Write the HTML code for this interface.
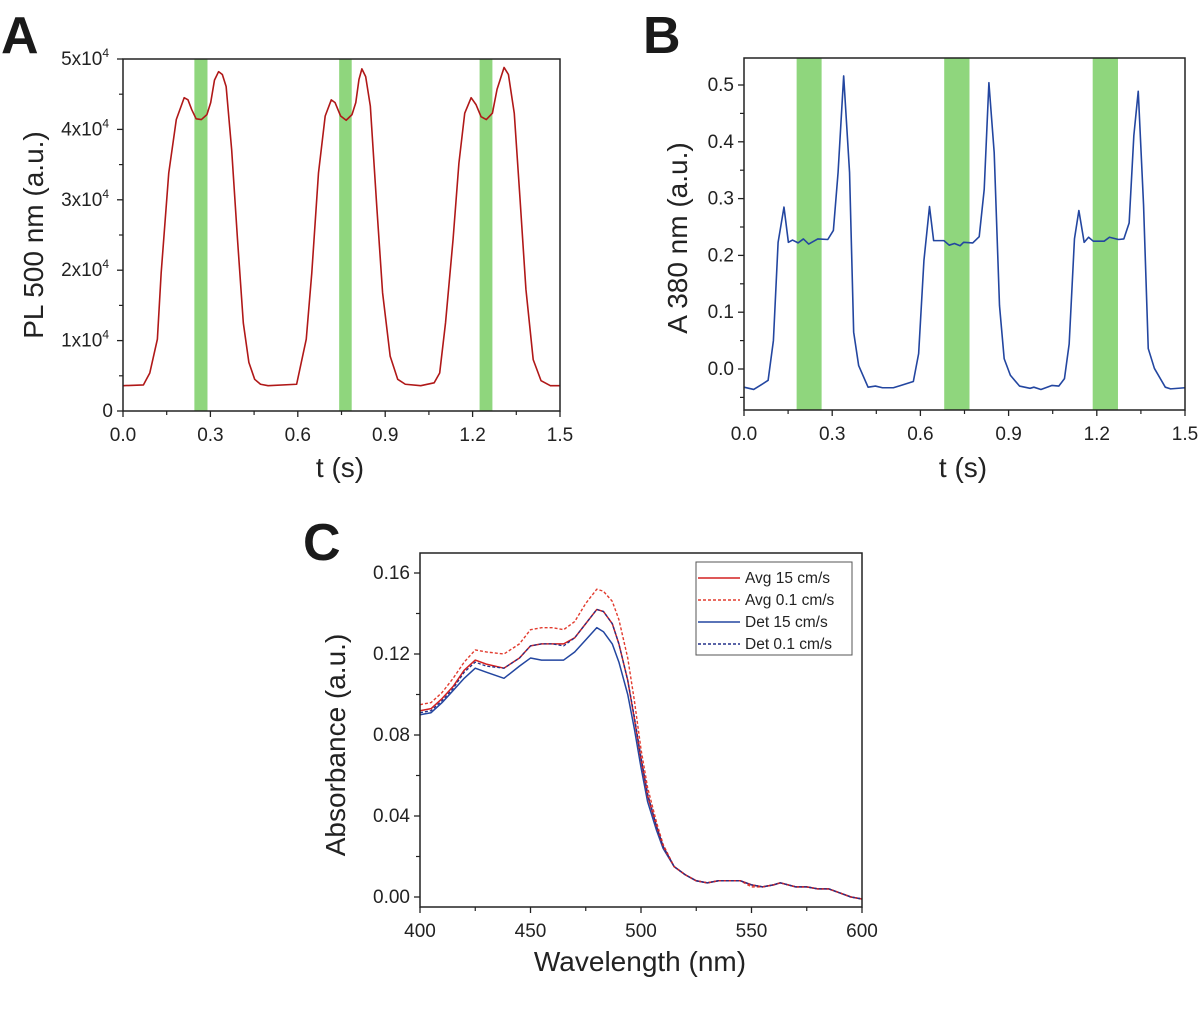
<!DOCTYPE html>
<html><head><meta charset="utf-8">
<style>
html,body{margin:0;padding:0;background:#fff;}
svg{display:block;font-family:"Liberation Sans",Arial,sans-serif;}
</style></head>
<body>
<svg id="fig" width="1200" height="1020" viewBox="0 0 1200 1020" xmlns="http://www.w3.org/2000/svg">
<text x="1" y="53" font-size="52" font-weight="bold" fill="#1a1a1a">A</text>
<text x="643" y="53" font-size="52" font-weight="bold" fill="#1a1a1a">B</text>
<text x="303" y="560" font-size="52" font-weight="bold" fill="#1a1a1a">C</text>
</svg>
<script>
// ---------- Panel A data ----------
const aTime = [0,0.07,0.092,0.118,0.131,0.157,0.183,0.21,0.223,0.236,0.251,0.269,0.288,0.301,0.314,0.328,0.341,0.354,0.373,0.393,0.413,0.432,0.452,0.472,0.498,0.596,0.629,0.648,0.671,0.694,0.715,0.728,0.747,0.766,0.786,0.799,0.81,0.82,0.833,0.849,0.871,0.891,0.917,0.943,0.969,1.022,1.068,1.087,1.107,1.133,1.153,1.173,1.195,1.212,1.229,1.247,1.268,1.284,1.308,1.323,1.343,1.363,1.383,1.408,1.435,1.467,1.5];
const aPL = [0.36,0.37,0.54,1.02,1.96,3.38,4.14,4.45,4.42,4.28,4.15,4.14,4.21,4.38,4.7,4.82,4.78,4.61,3.71,2.44,1.25,0.69,0.45,0.38,0.36,0.38,1.02,1.96,3.38,4.19,4.42,4.38,4.19,4.13,4.21,4.38,4.71,4.86,4.75,4.33,2.91,1.68,0.78,0.45,0.38,0.36,0.40,0.54,1.25,2.44,3.52,4.23,4.45,4.35,4.18,4.14,4.23,4.57,4.88,4.78,4.23,3.0,1.73,0.73,0.43,0.36,0.36];
const aBandStart = [0.245,0.742,1.224];
const aBandEnd = [0.290,0.785,1.268];
const aYTicks = [0,1,2,3,4,5];
const aXTicks = [0,0.3,0.6,0.9,1.2,1.5];
// ---------- Panel B data ----------
const bTime = [0,0.033,0.055,0.082,0.1,0.116,0.136,0.151,0.165,0.184,0.202,0.22,0.251,0.285,0.304,0.32,0.339,0.359,0.373,0.39,0.422,0.447,0.471,0.508,0.533,0.576,0.594,0.612,0.631,0.645,0.68,0.698,0.716,0.735,0.747,0.778,0.8,0.817,0.833,0.851,0.869,0.885,0.906,0.937,0.973,0.986,1.01,1.047,1.071,1.09,1.106,1.124,1.139,1.157,1.172,1.188,1.225,1.243,1.274,1.292,1.31,1.326,1.341,1.359,1.375,1.396,1.433,1.451,1.5];
const bAbs = [-0.032,-0.036,-0.029,-0.020,0.05,0.223,0.285,0.223,0.227,0.222,0.229,0.220,0.229,0.228,0.244,0.346,0.516,0.346,0.065,0.006,-0.032,-0.030,-0.033,-0.033,-0.029,-0.022,0.027,0.191,0.286,0.226,0.226,0.218,0.221,0.217,0.223,0.222,0.233,0.316,0.504,0.381,0.112,0.018,-0.011,-0.030,-0.034,-0.032,-0.036,-0.029,-0.030,-0.017,0.044,0.229,0.279,0.223,0.232,0.225,0.225,0.232,0.228,0.229,0.257,0.411,0.489,0.289,0.036,0.001,-0.032,-0.035,-0.033];
const bBandStart = [0.179,0.681,1.186];
const bBandEnd = [0.264,0.767,1.272];
const bYTicks = [0,0.1,0.2,0.3,0.4,0.5];
const bXTicks = [0,0.3,0.6,0.9,1.2,1.5];
// ---------- Panel C data ----------
const cWave = [400,405,410,415,420,425,430,438,445,450,455,460,465,470,475,480,483,487,490,494,497,500,503,507,510,515,520,525,530,535,540,545,550,555,560,563,570,575,580,585,590,595,600];
const cAvg15 = [0.092,0.093,0.098,0.104,0.112,0.117,0.115,0.113,0.118,0.124,0.125,0.125,0.125,0.128,0.135,0.142,0.141,0.135,0.125,0.107,0.088,0.068,0.050,0.035,0.025,0.015,0.011,0.008,0.007,0.008,0.008,0.008,0.006,0.005,0.006,0.007,0.005,0.005,0.004,0.004,0.002,0.000,-0.001];
const cAvg01 = [0.095,0.096,0.101,0.108,0.116,0.122,0.121,0.120,0.125,0.132,0.133,0.133,0.132,0.136,0.145,0.152,0.151,0.146,0.137,0.118,0.097,0.073,0.054,0.037,0.026,0.015,0.011,0.008,0.007,0.008,0.008,0.008,0.005,0.005,0.006,0.007,0.005,0.005,0.004,0.004,0.002,0.000,-0.001];
const cDet15 = [0.090,0.091,0.096,0.102,0.108,0.113,0.111,0.108,0.114,0.118,0.117,0.117,0.117,0.121,0.127,0.133,0.131,0.125,0.116,0.100,0.083,0.064,0.047,0.033,0.024,0.015,0.011,0.008,0.007,0.008,0.008,0.008,0.006,0.005,0.006,0.007,0.005,0.005,0.004,0.004,0.002,0.000,-0.001];
const cDet01 = [0.091,0.092,0.097,0.103,0.111,0.116,0.114,0.113,0.118,0.124,0.125,0.125,0.124,0.128,0.135,0.142,0.141,0.135,0.125,0.107,0.089,0.069,0.051,0.035,0.025,0.015,0.011,0.008,0.007,0.008,0.008,0.008,0.006,0.005,0.006,0.007,0.005,0.005,0.004,0.004,0.002,0.000,-0.001];
const cYTicks = [0,0.04,0.08,0.12,0.16];
const cXTicks = [400,450,500,550,600];
const cLegend = ["Avg 15 cm/s","Avg 0.1 cm/s","Det 15 cm/s","Det 0.1 cm/s"];

const NS="http://www.w3.org/2000/svg";
const svg=document.getElementById('fig');
function mk(tag,attrs,parent){const e=document.createElementNS(NS,tag);for(const k in attrs)e.setAttribute(k,attrs[k]);(parent||svg).appendChild(e);return e;}
function scale(d0,d1,r0,r1){return v=>r0+(v-d0)/(d1-d0)*(r1-r0);}

function frame(L,T,R,B,name){
  const r=mk('rect',{x:L,y:T,width:R-L,height:B-T,fill:'none',stroke:'#222','stroke-width':1.5});
  
  
}
function axes(cfg){
  const {L,T,R,B,sx,sy,xt,yt,xMinor,yMinor,xfmt,yfmt,name,supY}=cfg;
  xt.forEach(v=>{
    const x=sx(v);
    const t=mk('line',{x1:x,x2:x,y1:B,y2:B+6,stroke:'#222','stroke-width':1.3});
    
    
    const lb=mk('text',{x:x,y:B+30,'font-size':19,'text-anchor':'middle',fill:'#222'});
    lb.textContent=xfmt(v);
    
    
  });
  xMinor.forEach(v=>{const x=sx(v);const t=mk('line',{x1:x,x2:x,y1:B,y2:B+4,stroke:'#222','stroke-width':1.2});
    
    });
  yt.forEach(v=>{
    const y=sy(v);
    const t=mk('line',{x1:L-6,x2:L,y1:y,y2:y,stroke:'#222','stroke-width':1.3});
    
    
    const lb=mk('text',{x:L-10,y:y+6,'font-size':19,'text-anchor':'end',fill:'#222'});
    if(supY && v!==0){
      lb.textContent=v+'x10';
      const s=mk('tspan',{dy:-8,'font-size':12},lb);s.textContent='4';
      lb.setAttribute('x',L-14);
    } else lb.textContent=yfmt(v);
    
    
  });
  yMinor.forEach(v=>{const y=sy(v);const t=mk('line',{x1:L-4,x2:L,y1:y,y2:y,stroke:'#222','stroke-width':1.2});
    
    });
}
function bands(starts,ends,sx,T,B,name){
  starts.forEach((s,i)=>{
    const r=mk('rect',{x:sx(s),y:T,width:sx(ends[i])-sx(s),height:B-T,fill:'#8fd67d'});
    
    
  });
}
function line(xs,ys,sx,sy,color,dash,name,w){
  const d=xs.map((x,i)=>(i?'L':'M')+sx(x).toFixed(2)+','+sy(ys[i]).toFixed(2)).join(' ');
  const p=mk('path',{d:d,fill:'none',stroke:color,'stroke-width':w||1.6,'stroke-dasharray':dash||'none','stroke-linejoin':'round'});
  
  
}
function title(txt,x,y,rot,name){
  const t=mk('text',{x:x,y:y,'font-size':28,'text-anchor':'middle',fill:'#222',transform:rot?`rotate(-90 ${x} ${y})`:''});
  t.textContent=txt;
  
  
}
function range(a,b,s){const o=[];for(let v=a;v<=b+1e-9;v+=s)o.push(+v.toFixed(4));return o;}

// Panel A
{const L=123,T=59,R=560,B=411;
 const sx=scale(0,1.5,L,R), sy=scale(0,5,B,T);
 bands(aBandStart,aBandEnd,sx,T,B,'panel-a');
 line(aTime,aPL,sx,sy,'#b01818',null,'panel-a-pl-trace');
 frame(L,T,R,B,'panel-a');
 axes({L,T,R,B,sx,sy,xt:aXTicks,yt:aYTicks,xMinor:range(0.15,1.35,0.3),yMinor:range(0.5,4.5,1),xfmt:v=>v.toFixed(1),yfmt:v=>String(v),name:'panel-a',supY:true});
 title('t (s)',340,477,false,'panel-a-x-axis-title');
 title('PL  500 nm (a.u.)',43,235,true,'panel-a-y-axis-title');}

// Panel B
{const L=744,T=58,R=1185,B=410;
 const sx=scale(0,1.5,L,R), sy=scale(0,0.5,369,85);
 bands(bBandStart,bBandEnd,sx,T,B,'panel-b');
 line(bTime,bAbs,sx,sy,'#2346a0',null,'panel-b-absorbance-trace');
 frame(L,T,R,B,'panel-b');
 axes({L,T,R,B,sx,sy,xt:bXTicks,yt:bYTicks,xMinor:range(0.15,1.35,0.3),yMinor:range(-0.05,0.45,0.1),xfmt:v=>v.toFixed(1),yfmt:v=>v.toFixed(1),name:'panel-b'});
 title('t (s)',963,477,false,'panel-b-x-axis-title');
 title('A 380 nm (a.u.)',687,238,true,'panel-b-y-axis-title');}

// Panel C
{const L=420,T=553,R=862,B=907;
 const sx=scale(400,600,L,R), sy=scale(0,0.16,897,573);
 line(cWave,cAvg01,sx,sy,'#e23b2e','3,2','avg-0.1-line',1.4);
 line(cWave,cDet15,sx,sy,'#2346a0',null,'det-15-line',1.5);
 line(cWave,cAvg15,sx,sy,'#d42020',null,'avg-15-line',1.5);
 line(cWave,cDet01,sx,sy,'#23308a','3,2','det-0.1-line',1.3);
 frame(L,T,R,B,'panel-c');
 axes({L,T,R,B,sx,sy,xt:cXTicks,yt:cYTicks,xMinor:range(425,575,50),yMinor:range(0.02,0.14,0.04),xfmt:v=>String(v),yfmt:v=>v.toFixed(2),name:'panel-c'});
 title('Wavelength (nm)',640,971,false,'panel-c-x-axis-title');
 title('Absorbance (a.u.)',345,745,true,'panel-c-y-axis-title');
 const lg=mk('rect',{x:696,y:562,width:156,height:93,fill:'#fff',stroke:'#555','stroke-width':1});
 
 
 const cols=['#d42020','#e23b2e','#2346a0','#23308a'];
 const dashes=[null,'3,2',null,'3,2'];
 cLegend.forEach((lab,i)=>{
   const y=578+i*22;
   const l=mk('line',{x1:698,x2:740,y1:y,y2:y,stroke:cols[i],'stroke-width':1.5,'stroke-dasharray':dashes[i]||'none'});
   
   
   const t=mk('text',{x:745,y:y+5,'font-size':15.5,fill:'#222'});
   t.textContent=lab;
   
   
 });}
</script>
</body></html>
